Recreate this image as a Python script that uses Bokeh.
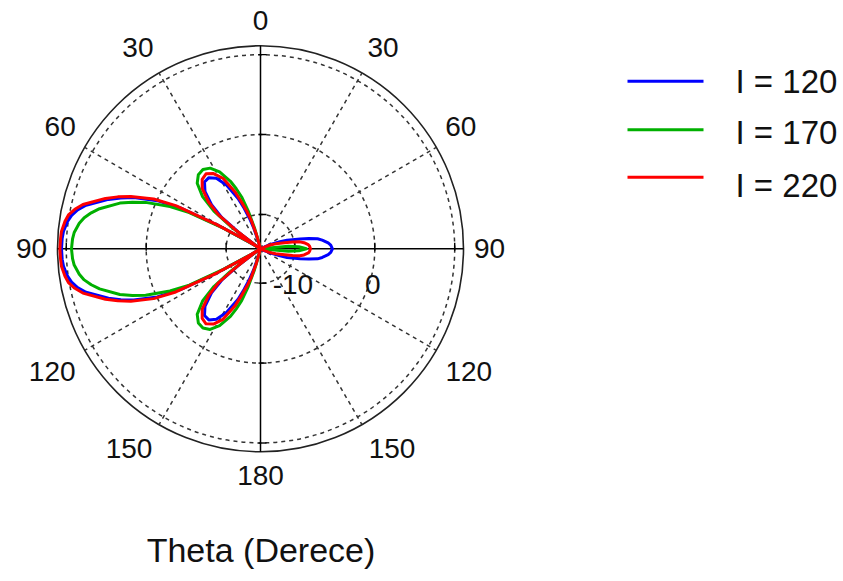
import math
from bokeh.plotting import figure
from bokeh.models import Range1d
from bokeh.embed import file_html
from bokeh.resources import INLINE
from bokeh.core.properties import value

# ---------------- data ----------------
# polar angle in degrees, 0 at top, 180 at bottom (same grid for both halves)
theta = [0, 10, 14, 16, 18, 20, 22, 24, 28, 32, 36, 40, 44, 48, 51, 53, 55, 57,
         59, 61, 63, 65, 68, 70, 72, 76, 78, 80, 82, 85, 87,
         90,
         93, 95, 98, 100, 102, 104, 108, 110, 112, 115, 117, 119, 121, 123, 125,
         127, 129, 132, 136, 140, 144, 148, 152, 156, 158, 160, 162, 164, 166,
         170, 180]

# radiation pattern values in dB, left half of the plot
blue_left = [-20, -20, -16, -13.3, -11.55, -10.2, -8.8, -7.4, -5.3, -3.9, -3.3, -3.4,
             -4.3, -6.05, -8.05, -10.8, -13.55, -16, -12.8, -8.3, -3.05, -0.05, 2.8,
             4.3, 5.7, 8.2, 9.1, 9.7, 10.1, 10.45, 10.55,
             10.6,
             10.55, 10.45, 10.1, 9.7, 9.1, 8.2, 5.7, 4.3, 2.8, -0.05, -3.05, -8.3,
             -12.8, -16, -13.55, -10.8, -8.05, -6.05, -4.3, -3.4, -3.3, -3.9, -5.3,
             -7.4, -8.8, -10.2, -11.55, -13.3, -16, -20, -20]
green_left = [-20, -20, -13.7, -11.55, -9.3, -7.4, -6.2, -5.05, -3.4, -2.4, -2.05, -2.2,
              -2.9, -4.55, -6.8, -9.55, -12.8, -16, -13.05, -9.05, -4.3, -1.8, 1.2,
              2.75, 4.2, 6.45, 7.35, 8.1, 8.6, 9.1, 9.25,
              9.35,
              9.25, 9.1, 8.6, 8.1, 7.35, 6.45, 4.2, 2.75, 1.2, -1.8, -4.3, -9.05,
              -13.05, -16, -12.8, -9.55, -6.8, -4.55, -2.9, -2.2, -2.05, -2.4, -3.4,
              -5.05, -6.2, -7.4, -9.3, -11.55, -13.7, -20, -20]
red_left = [-20, -20, -15, -12.4, -10.55, -9.3, -8.05, -6.55, -4.3, -3.2, -2.7, -2.95,
            -3.8, -5.55, -7.55, -10.55, -13.3, -16, -12.4, -8.05, -2.4, 0.45, 3.2,
            4.7, 6.1, 8.6, 9.45, 10.1, 10.4, 10.7, 10.75,
            10.8,
            10.75, 10.7, 10.4, 10.1, 9.45, 8.6, 6.1, 4.7, 3.2, 0.45, -2.4, -8.05,
            -12.4, -16, -13.3, -10.55, -7.55, -5.55, -3.8, -2.95, -2.7, -3.2, -4.3,
            -6.55, -8.05, -9.3, -10.55, -12.4, -15, -20, -20]

# right half of the plot
blue_right = [-20, -20, -20, -20, -20, -20, -20, -20, -20, -20, -20, -20, -20, -20,
              -20, -20, -20, -20, -20, -20, -15, -13.7, -12.7, -11.7, -10.8, -9.2,
              -8.1, -7.05, -6.5, -5.8, -5.5,
              -5.3,
              -5.5, -5.8, -6.5, -7.05, -8.1, -9.2, -10.8, -11.7, -12.7, -13.7, -15,
              -20, -20, -20, -20, -20, -20, -20, -20, -20, -20, -20, -20, -20, -20,
              -20, -20, -20, -20, -20, -20]
green_right = [-20, -20, -20, -20, -20, -20, -20, -20, -20, -20, -20, -20, -20, -20,
               -20, -20, -20, -20, -20, -20, -20, -20, -20, -20, -20, -20, -20, -20,
               -20, -10.8, -9.5,
               -8.55,
               -9.5, -10.8, -20, -20, -20, -20, -20, -20, -20, -20, -20, -20, -20,
               -20, -20, -20, -20, -20, -20, -20, -20, -20, -20, -20, -20, -20, -20,
               -20, -20, -20, -20]
red_right = [-20, -20, -20, -20, -20, -20, -20, -20, -20, -20, -20, -20, -20, -20,
             -20, -20, -20, -20, -20, -20, -20, -14, -13.2, -12.75, -12.3, -11.2,
             -10.2, -9.3, -8.8, -8.3, -8.15,
             -8.05,
             -8.15, -8.3, -8.8, -9.3, -10.2, -11.2, -12.3, -12.75, -13.2, -14, -20,
             -20, -20, -20, -20, -20, -20, -20, -20, -20, -20, -20, -20, -20, -20,
             -20, -20, -20, -20, -20, -20]

legend_labels = ["I = 120", "I = 170", "I = 220"]
colors = ["#0000ff", "#00b000", "#ff0000"]
angle_ticks = [0, 30, 60, 90, 120, 150, 180]
radial_ticks = [-10, 0, 10]
radial_tick_labels = ["-10", "0"]
axis_title = "Theta (Derece)"

# ---------------- layout ----------------
W, H = 843, 581
CX, CY, R = 260.0, 248.3, 203.0          # picture pixel coordinates
VMIN, VMAX = -14.3, 11.1
SCALE = R / (VMAX - VMIN)
FONT = value("Liberation Sans")
GRID_COLOR = "#333333"


def rad(v):
    return max(v - VMIN, 0.0) * SCALE


p = figure(width=W, height=H, x_range=Range1d(0, W), y_range=Range1d(H, 0),
           output_backend="svg", toolbar_location=None, min_border=0,
           x_axis_type=None, y_axis_type=None)
p.grid.visible = False
p.outline_line_color = None
p.background_fill_color = "white"

# dashed grid circles
for v in radial_ticks:
    p.circle(x=[CX], y=[CY], radius=rad(v), fill_color=None, line_color=GRID_COLOR,
             line_width=1.5, line_dash="4 4")
# outer solid circle
p.circle(x=[CX], y=[CY], radius=R, fill_color=None, line_color="#222222", line_width=1.6)

# dashed spokes
sx0, sy0, sx1, sy1 = [], [], [], []
for a in angle_ticks:
    if a in (0, 90, 180):
        continue
    for side in (-1, 1):
        t = math.radians(a)
        sx0.append(CX); sy0.append(CY)
        sx1.append(CX + side * R * math.sin(t)); sy1.append(CY - R * math.cos(t))
p.segment(x0=sx0, y0=sy0, x1=sx1, y1=sy1, line_color=GRID_COLOR, line_width=1.5,
          line_dash="4 4")

# solid axes
p.segment(x0=[CX, CX - R], y0=[CY - R, CY], x1=[CX, CX + R], y1=[CY + R, CY],
          line_color="black", line_width=1.5)

# radial ticks
tx0, ty0, tx1, ty1 = [], [], [], []
for v in radial_ticks:
    r = rad(v)
    for side in (-1, 1):
        tx0.append(CX + side * r); ty0.append(CY - 6)
        tx1.append(CX + side * r); ty1.append(CY + 2)
        tx0.append(CX - 2); ty0.append(CY + side * r)
        tx1.append(CX + 6); ty1.append(CY + side * r)
p.segment(x0=tx0, y0=ty0, x1=tx1, y1=ty1, line_color="black", line_width=1.4)

# pattern curves
for lab, col, left, right in zip(legend_labels, colors,
                                 [blue_left, green_left, red_left],
                                 [blue_right, green_right, red_right]):
    xs, ys = [], []
    for a, v in zip(theta, left):
        t = math.radians(a)
        r = rad(v)
        xs.append(CX - r * math.sin(t)); ys.append(CY - r * math.cos(t))
    for a, v in zip(reversed(theta), reversed(right)):
        t = math.radians(a)
        r = rad(v)
        xs.append(CX + r * math.sin(t)); ys.append(CY - r * math.cos(t))
    xs.append(xs[0]); ys.append(ys[0])
    p.line(xs, ys, line_color=col, line_width=3, line_join="round")

# angle labels
label_pos = {0: (0, 228), 30: (31.3, 236), 60: (58.5, 235), 90: (90, 229),
             120: (120.6, 242), 150: (146.7, 239.5), 180: (180, 227)}
lx, ly, lt = [], [], []
for a in angle_ticks:
    ang, rl = label_pos[a]
    t = math.radians(ang)
    sides = (1,) if a in (0, 180) else (-1, 1)
    for side in sides:
        lx.append(CX + side * rl * math.sin(t)); ly.append(CY - rl * math.cos(t))
        lt.append(str(a))
p.text(x=lx, y=ly, text=lt, text_font=FONT, text_font_size="28px", text_color="#111111",
       text_align="center", text_baseline="middle")

# radial tick labels
p.text(x=[CX + rad(v) - 2 for v in radial_ticks[:2]], y=[CY + 36, CY + 36],
       text=radial_tick_labels, text_font=FONT, text_font_size="28px",
       text_color="#111111", text_align="center", text_baseline="middle")

# axis title
p.text(x=[260.5], y=[549], text=[axis_title], text_font=FONT, text_font_size="34px",
       text_color="#111111", text_align="center", text_baseline="middle")

# legend
leg_line_y = [80.7, 129.3, 176.7]
leg_text_y = [80.5, 131.5, 185]
p.segment(x0=[627] * 3, y0=leg_line_y, x1=[703] * 3, y1=leg_line_y,
          line_color=colors, line_width=3)
p.text(x=[735] * 3, y=leg_text_y, text=legend_labels, text_font=FONT,
       text_font_size="33px", text_color="#111111", text_align="left",
       text_baseline="middle")

open("out.html", "w").write(file_html(p, INLINE))
